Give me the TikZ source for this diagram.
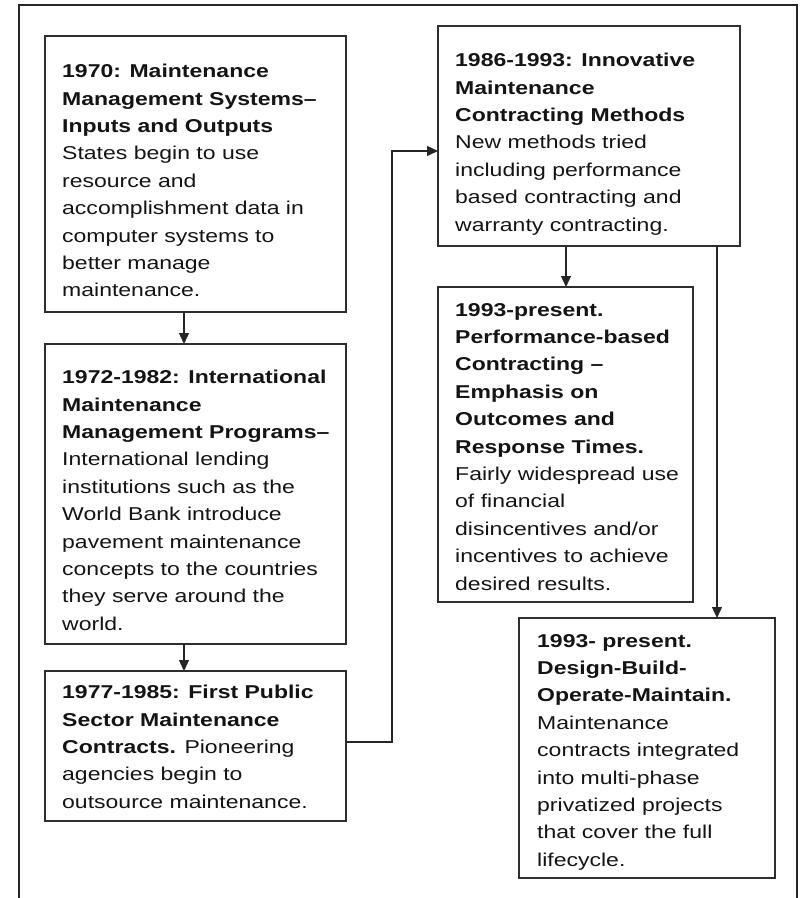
\documentclass[tikz,border=0pt]{standalone}
\usepackage{fontspec}
\setmainfont[FakeStretch=1.237]{Liberation Sans}
\usetikzlibrary{arrows.meta}
\begin{document}
\begin{tikzpicture}[x=1pt,y=-1pt,
  box/.style={draw=black!82,line width=1.5pt,anchor=north west,inner sep=0pt,outer sep=0pt},
  txt/.style={anchor=north west,inner sep=0pt,align=left,text=black!92,font=\fontsize{18.6pt}{27.4pt}\selectfont},
  conn/.style={draw=black!85,line width=1.3pt},
  arr/.style={conn,-{Triangle[length=11pt,width=10pt]}}]
\useasboundingbox (0,0) rectangle (802,898);
% outer frame (open at bottom)
\draw[line width=1.5pt,black!85] (19,898) -- (19,5) -- (797,5) -- (797,898);
% boxes
\node[box,minimum width=301pt,minimum height=276pt] (b1) at (45,36) {};
\node[box,minimum width=301pt,minimum height=300pt] (b2) at (45,344) {};
\node[box,minimum width=301pt,minimum height=150pt] (b3) at (45,671) {};
\node[box,minimum width=302pt,minimum height=220pt] (b4) at (438,26) {};
\node[box,minimum width=255pt,minimum height=315pt] (b5) at (438,287) {};
\node[box,minimum width=256pt,minimum height=260pt] (b6) at (519,618) {};
% texts
\node[txt] (t1) at (62,64) {\textbf{1970: Maintenance}\\\textbf{Management Systems–}\\\textbf{Inputs and Outputs}\\States begin to use\\resource and\\accomplishment data in\\computer systems to\\better manage\\maintenance.};
\node[txt] (t2) at (62,370) {\textbf{1972-1982: International}\\\textbf{Maintenance}\\\textbf{Management Programs–}\\International lending\\institutions such as the\\World Bank introduce\\pavement maintenance\\concepts to the countries\\they serve around the\\world.};
\node[txt] (t3) at (62,685) {\textbf{1977-1985: First Public}\\\textbf{Sector Maintenance}\\\textbf{Contracts.} Pioneering\\agencies begin to\\outsource maintenance.};
\node[txt] (t4) at (455,53) {\textbf{1986-1993: Innovative}\\\textbf{Maintenance}\\\textbf{Contracting Methods}\\New methods tried\\including performance\\based contracting and\\warranty contracting.};
\node[txt] (t5) at (455,303) {\textbf{1993-present.}\\\textbf{Performance-based}\\\textbf{Contracting –}\\\textbf{Emphasis on}\\\textbf{Outcomes and}\\\textbf{Response Times.}\\Fairly widespread use\\of financial\\disincentives and/or\\incentives to achieve\\desired results.};
\node[txt] (t6) at (537,634) {\textbf{1993- present.}\\\textbf{Design-Build-}\\\textbf{Operate-Maintain.}\\Maintenance\\contracts integrated\\into multi-phase\\privatized projects\\that cover the full\\lifecycle.};
% connectors
\draw[arr] ([xshift=-11.5pt]b1.south) -- ([xshift=-11.5pt]b2.north);
\draw[arr] ([xshift=-11.5pt]b2.south) -- ([xshift=-11.5pt]b3.north);
\draw[arr] ([yshift=4pt]b3.east) -- ++(46,0) |- ([yshift=-15pt]b4.west);
\draw[arr] ([xshift=-23pt]b4.south) -- ([xshift=-23pt]b4.south |- b5.north);
\draw[arr] ([xshift=128pt]b4.south) -- ([xshift=128pt]b4.south |- b6.north);
\end{tikzpicture}
\end{document}
